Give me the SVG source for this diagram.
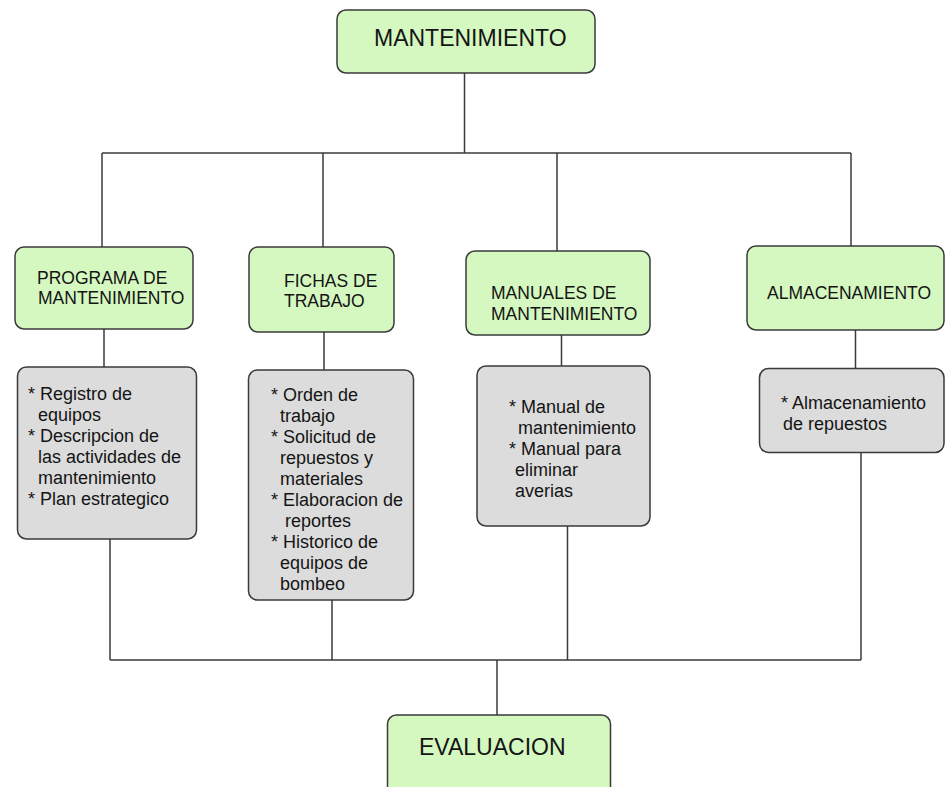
<svg xmlns="http://www.w3.org/2000/svg" width="945" height="787" viewBox="0 0 945 787">
  <style>
    .head { fill: #d5f8c0; stroke: #3a3a3a; stroke-width: 1.5; }
    .item { fill: #dcdcdc; stroke: #3a3a3a; stroke-width: 1.5; }
    .wire { fill: none; stroke: #3a3a3a; stroke-width: 1.5; }
    text { font-family: "Liberation Sans", Arial, sans-serif; fill: #141414; }
    .t1 { font-size: 23px; }
    .t2 { font-size: 17.5px; }
    .t3 { font-size: 18px; }
  </style>
  <rect width="945" height="787" fill="#ffffff"/>

  <!-- connectors -->
  <g id="connectors" class="wire">
    <path d="M464.5 73 V153"/>
    <path d="M102 153 H851"/>
    <path d="M102 153 V247"/>
    <path d="M323 153 V247"/>
    <path d="M557 153 V251"/>
    <path d="M851 153 V246"/>
    <path d="M104 329 V367"/>
    <path d="M324 332 V370"/>
    <path d="M561.5 335 V366"/>
    <path d="M855.5 330 V368"/>
    <path d="M110 539 V660"/>
    <path d="M332 600 V660"/>
    <path d="M567.5 526 V660"/>
    <path d="M861 452 V660"/>
    <path d="M110 660 H861"/>
    <path d="M497 660 V715"/>
  </g>

  <!-- top -->
  <g id="mantenimiento">
    <rect class="head" x="337" y="10" width="258" height="63" rx="9"/>
    <text class="t1" x="374" y="46">MANTENIMIENTO</text>
  </g>

  <!-- second level -->
  <g id="programa">
    <rect class="head" x="15" y="247" width="178" height="82" rx="9"/>
    <text class="t2"><tspan x="37" y="284">PROGRAMA DE</tspan><tspan x="38" y="304">MANTENIMIENTO</tspan></text>
  </g>
  <g id="fichas">
    <rect class="head" x="249" y="247" width="145" height="85" rx="9"/>
    <text class="t2"><tspan x="284" y="287">FICHAS DE</tspan><tspan x="284" y="307">TRABAJO</tspan></text>
  </g>
  <g id="manuales">
    <rect class="head" x="466" y="251" width="184" height="84" rx="9"/>
    <text class="t2"><tspan x="491" y="299">MANUALES DE</tspan><tspan x="491" y="320">MANTENIMIENTO</tspan></text>
  </g>
  <g id="almacenamiento">
    <rect class="head" x="747" y="246" width="197" height="84" rx="9"/>
    <text class="t2" x="767" y="299">ALMACENAMIENTO</text>
  </g>

  <!-- detail boxes -->
  <g id="detalle-programa">
    <rect class="item" x="17.5" y="367" width="179" height="172" rx="9"/>
    <text class="t3">
      <tspan x="28" y="400">* Registro de</tspan>
      <tspan x="38" y="421">equipos</tspan>
      <tspan x="28" y="442">* Descripcion de</tspan>
      <tspan x="38" y="463">las actividades de</tspan>
      <tspan x="38" y="484">mantenimiento</tspan>
      <tspan x="28" y="505">* Plan estrategico</tspan>
    </text>
  </g>
  <g id="detalle-fichas">
    <rect class="item" x="248.5" y="370" width="165" height="230" rx="9"/>
    <text class="t3">
      <tspan x="271" y="401">* Orden de</tspan>
      <tspan x="280" y="422">trabajo</tspan>
      <tspan x="271" y="443">* Solicitud de</tspan>
      <tspan x="280" y="464">repuestos y</tspan>
      <tspan x="280" y="485">materiales</tspan>
      <tspan x="271" y="506">* Elaboracion de</tspan>
      <tspan x="285" y="527">reportes</tspan>
      <tspan x="271" y="548">* Historico de</tspan>
      <tspan x="280" y="569">equipos de</tspan>
      <tspan x="280" y="590">bombeo</tspan>
    </text>
  </g>
  <g id="detalle-manuales">
    <rect class="item" x="477" y="366" width="173" height="160" rx="9"/>
    <text class="t3">
      <tspan x="509" y="413">* Manual de</tspan>
      <tspan x="518" y="434">mantenimiento</tspan>
      <tspan x="509" y="455">* Manual para</tspan>
      <tspan x="515" y="476">eliminar</tspan>
      <tspan x="515" y="497">averias</tspan>
    </text>
  </g>
  <g id="detalle-almacenamiento">
    <rect class="item" x="759.5" y="368.5" width="184.5" height="84" rx="9"/>
    <text class="t3">
      <tspan x="781" y="409">* Almacenamiento</tspan>
      <tspan x="783" y="430">de repuestos</tspan>
    </text>
  </g>

  <!-- bottom -->
  <g id="evaluacion">
    <rect class="head" x="387.5" y="715" width="223" height="90" rx="9"/>
    <text class="t1" x="419" y="755">EVALUACION</text>
  </g>
</svg>
